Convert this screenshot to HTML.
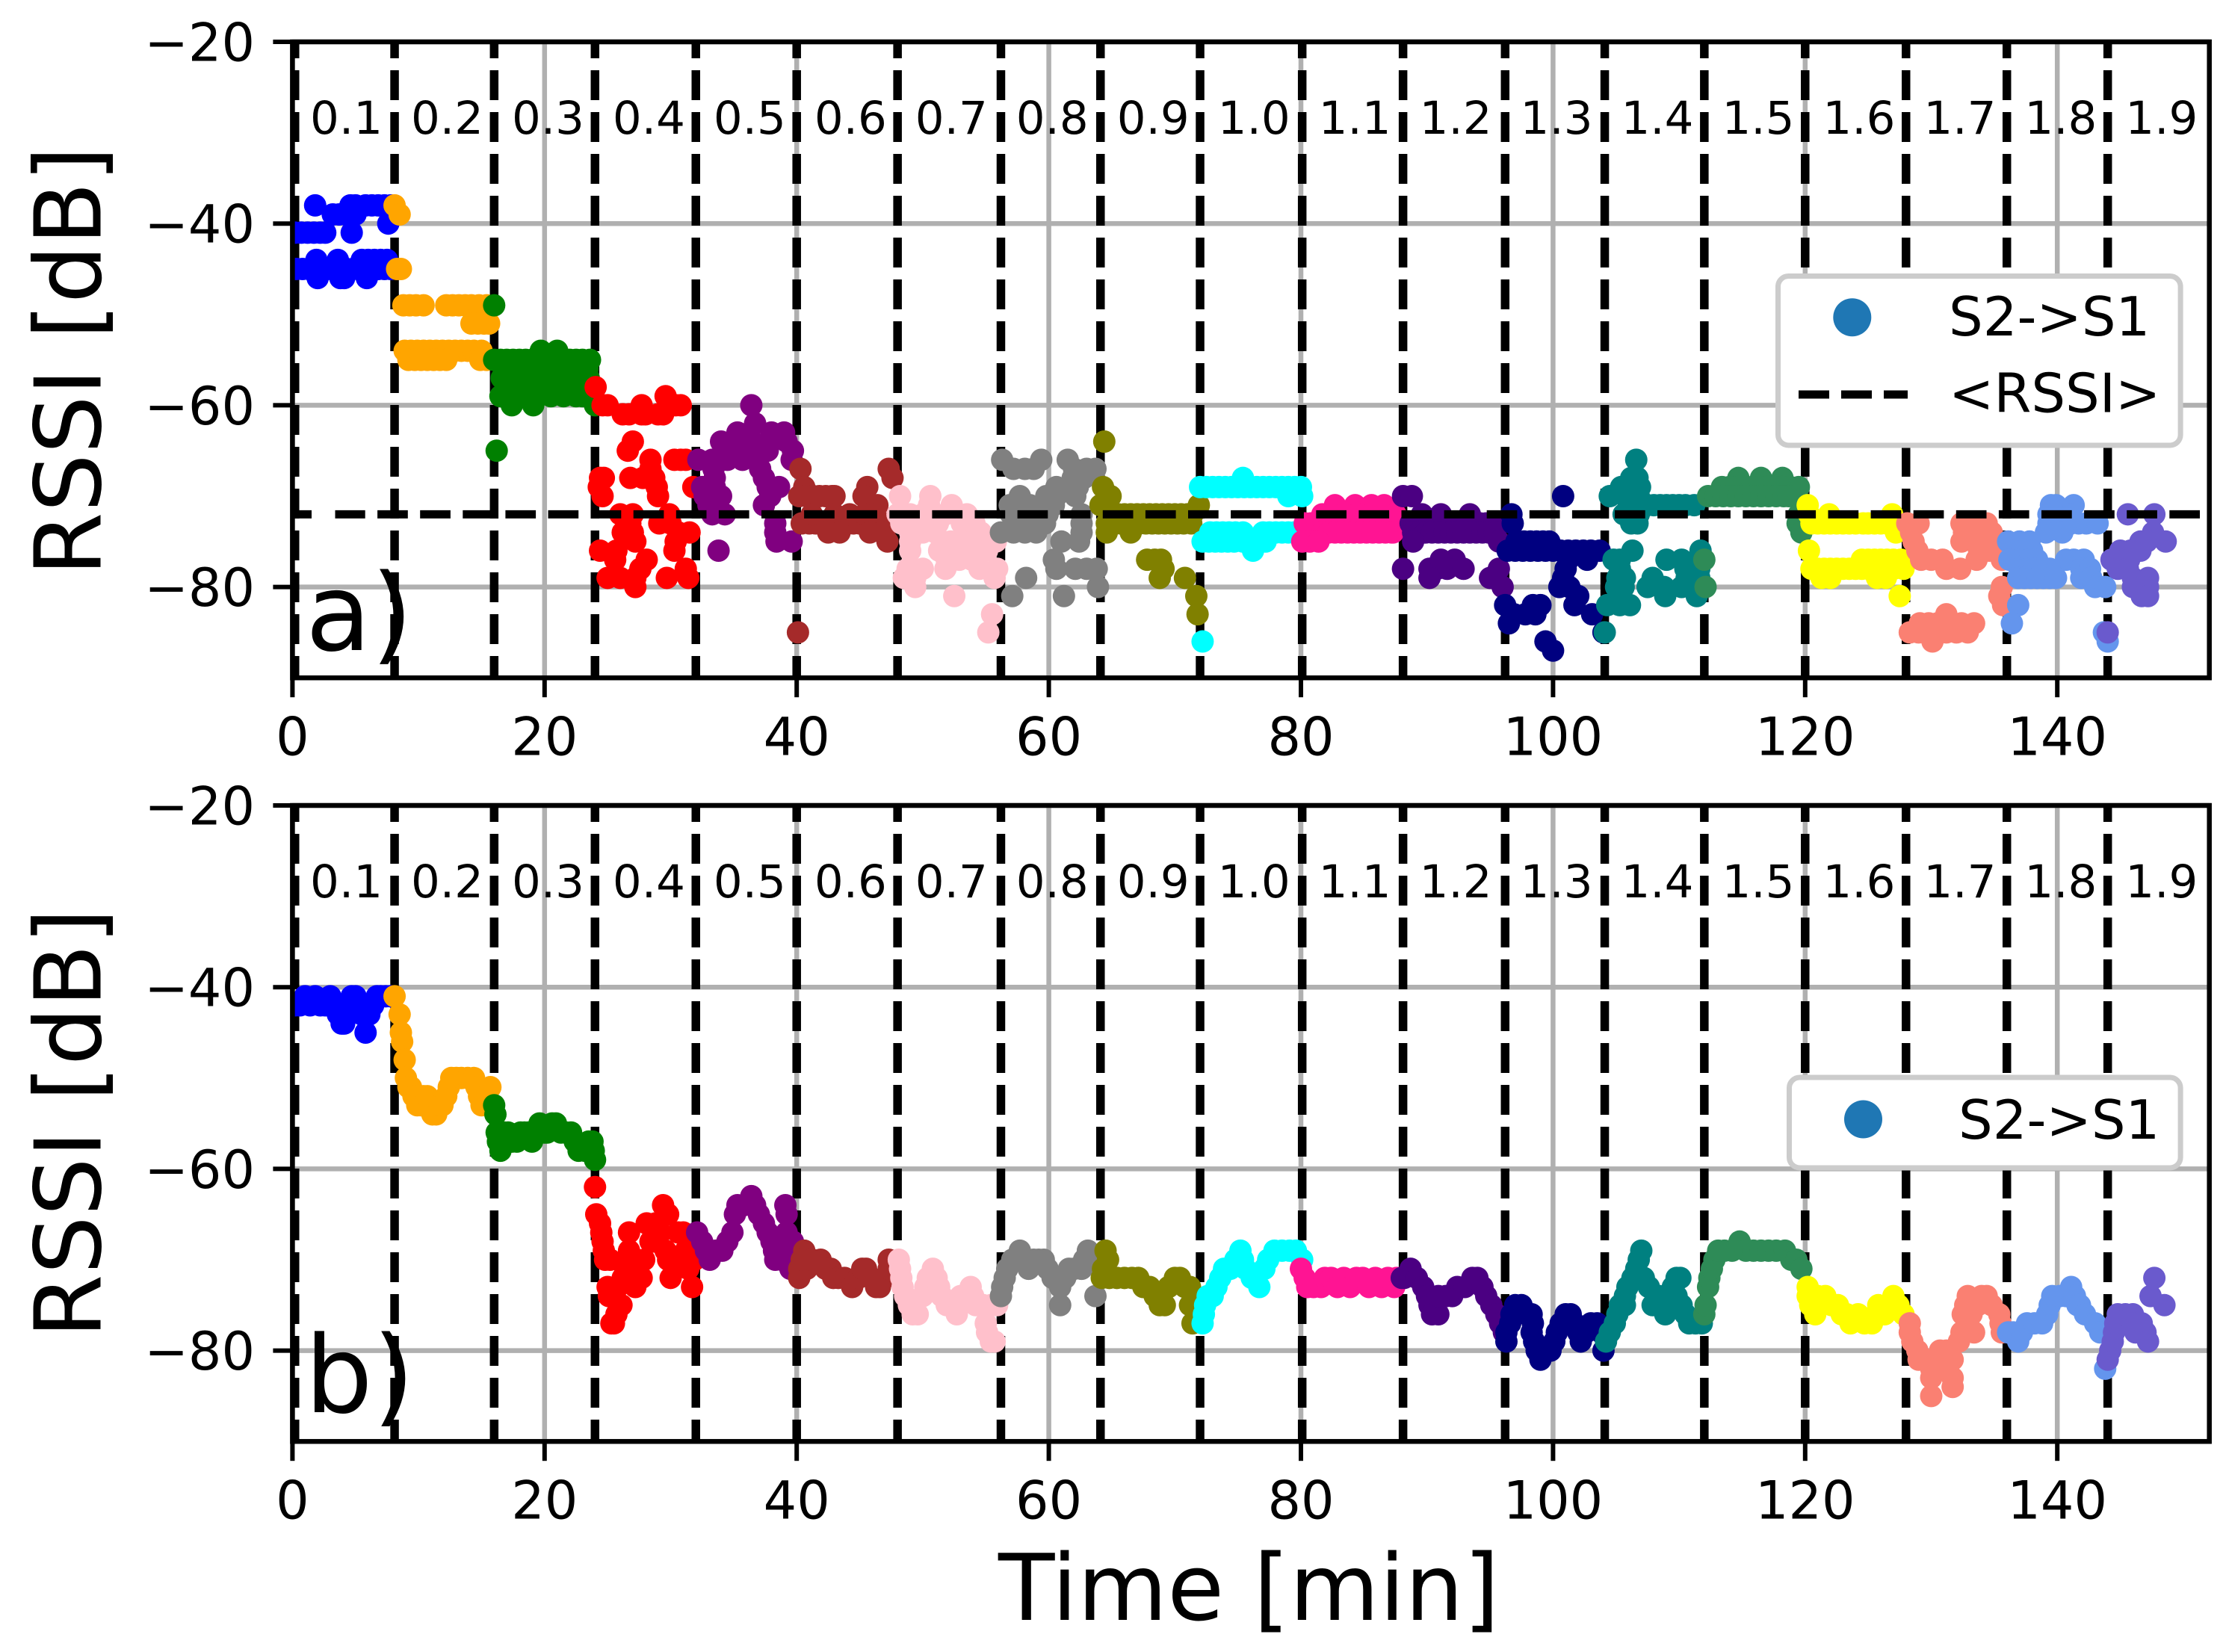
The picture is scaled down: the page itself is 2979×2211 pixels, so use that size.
<!DOCTYPE html>
<html lang="en">
<head>
<meta charset="utf-8">
<title>RSSI over time</title>
<style>
html,body{margin:0;padding:0;background:#fff}
svg{display:block}
text{font-family:"DejaVu Sans","Liberation Sans",sans-serif;fill:#000}
</style>
</head>
<body>
<svg id="chart" xmlns="http://www.w3.org/2000/svg" width="2979" height="2211" viewBox="0 0 2979 2211">
<rect x="0" y="0" width="2979" height="2211" fill="#fff"/>
<defs>
<clipPath id="clipA"><rect x="391.4" y="56" width="2565" height="851.2"/></clipPath>
<clipPath id="clipB"><rect x="391.4" y="1078" width="2565" height="851.2"/></clipPath>
</defs>
<g id="panelA"></g>
<g id="panelB"></g>

<text font-size="123" transform="translate(134.7 771) rotate(-90)">RSSI [dB]</text>
<text font-size="123" transform="translate(134.7 1791) rotate(-90)">RSSI [dB]</text>
<text font-size="123.5" x="1336" y="2168">Time [min]</text>

<g>
<rect x="2379.5" y="369.5" width="538.6" height="226.5" rx="14" fill="#fff" stroke="#ccc" stroke-width="7"/>
<circle cx="2478.8" cy="424.7" r="25.5" fill="#1f77b4"/>
<text font-size="72" x="2608" y="449">S2-&gt;S1</text>
<line x1="2407" y1="528" x2="2553" y2="528" stroke="#000" stroke-width="11" stroke-dasharray="41 16"/>
<text font-size="72" x="2608" y="551.7">&lt;RSSI&gt;</text>
</g>
<g>
<rect x="2394.5" y="1442" width="523.6" height="121" rx="14" fill="#fff" stroke="#ccc" stroke-width="7"/>
<circle cx="2493.5" cy="1498" r="25.5" fill="#1f77b4"/>
<text font-size="72" x="2621" y="1524">S2-&gt;S1</text>
</g>
<text font-size="143" x="409" y="870">a)</text>
<text font-size="143" x="408" y="1890">b)</text>
</svg>

<script>
const xTicks = [0,20,40,60,80,100,120,140];
const yTicks = [-20,-40,-60,-80];
const sweepBoundaries = [0.2,8.1,16,24,32,40,48,56.2,64.1,72,80.1,88.1,96.2,104.1,112,120,128,136,144];
const sweepLabels = ["0.1","0.2","0.3","0.4","0.5","0.6","0.7","0.8","0.9","1.0","1.1","1.2","1.3","1.4","1.5","1.6","1.7","1.8","1.9"];
const segmentColors = ["#0000ff","#ffa500","#008000","#ff0000","#800080","#a52a2a","#ffc0cb","#808080","#808000","#00ffff","#ff1493","#4b0082","#000080","#008080","#2e8b57","#ffff00","#fa8072","#6495ed","#6a5acd"];
const meanRssi = -72;

const a01=[[.3,-45],[.8,-45],[1.3,-45],[1.8,-45],[2.3,-45],[2.8,-45],[3.3,-45],[3.8,-45],[4.3,-45],[4.8,-45],[5.3,-45],[5.8,-45],[6.3,-45],[6.8,-45],[7.3,-45],[7.8,-45],[1.9,-44],[3.6,-44],[5.5,-44],[6,-44],[6.5,-44],[7,-44],[7.5,-44],[2,-46],[3.8,-46],[4.1,-46],[5.9,-46],[.2,-41],[.7,-41],[1.2,-41],[1.7,-41],[2.2,-41],[2.6,-41],[4.7,-41],[1.8,-38],[4.6,-38],[5,-38],[5.8,-38],[6.3,-38],[6.8,-38],[7.3,-38],[7.8,-38],[3.2,-39],[3.7,-39],[4.2,-39],[4.6,-39],[5,-39],[7.6,-40]];
const a02=[[8.1,-38],[8.5,-39],[8.3,-45],[8.6,-45],[8.8,-49],[9.3,-49],[9.8,-49],[10.4,-49],[12.2,-49],[12.7,-49],[13.2,-49],[13.7,-49],[14.2,-49],[14.8,-49],[15.4,-49],[14.2,-51],[14.7,-51],[15.2,-51],[15.6,-51],[8.9,-54],[9.4,-54],[9.9,-54],[10.4,-54],[10.9,-54],[11.4,-54],[11.9,-54],[12.4,-54],[12.9,-54],[13.4,-54],[13.9,-54],[14.4,-54],[15,-54],[9.2,-55],[9.7,-55],[10.2,-55],[10.7,-55],[11.2,-55],[11.7,-55],[12.2,-55],[14.9,-55],[15.4,-55]];
const a03=[[16,-49],[16.2,-65],[16,-55],[16.5,-55],[17,-55],[17.5,-55],[18,-55],[18.5,-55],[19,-55],[19.5,-55],[20,-55],[21,-55],[22,-55],[22.5,-55],[23,-55],[23.6,-55],[19.7,-54],[21,-54],[17,-56],[17.8,-56],[19.5,-56],[20.5,-56],[21.5,-56],[22,-56],[22.8,-56],[23.4,-56],[16.6,-57],[17,-57],[18.5,-57],[19,-57],[20,-57],[21,-57],[22,-57],[23,-57],[23.5,-57],[17,-58],[17.5,-58],[18.5,-58],[19,-58],[19.5,-58],[20,-58],[20.5,-58],[21,-58],[21.5,-58],[22,-58],[22.5,-58],[23.5,-58],[16.5,-59],[17.2,-59],[18,-59],[19,-59],[19.5,-59],[20.5,-59],[21.5,-59],[22.5,-59],[23,-59],[17.4,-60],[19.1,-60],[24,-60]];
const a04=[[24.05,-58],[24.6,-60],[25,-60],[27.7,-60],[29.9,-60],[30.4,-60],[30.8,-60],[26.2,-61],[26.7,-61],[27.7,-61],[28,-61],[29,-61],[29.4,-61],[29.6,-59],[27,-64],[26.6,-65],[28.4,-66],[30.3,-66],[30.8,-66],[31.2,-66],[28.4,-67],[24.4,-68],[24.7,-68],[26.8,-68],[27.8,-68],[28.7,-68],[24.3,-69],[28.9,-69],[24.6,-70],[29,-70],[31.8,-69],[26,-72],[27,-72],[29.9,-72],[26.8,-73],[29.1,-73],[30,-73],[26.2,-74],[27,-74],[31.5,-74],[30.6,-74],[27.2,-75],[30.4,-75],[24.4,-76],[25.7,-76],[30.3,-76],[28.1,-77],[25.6,-77],[27.6,-78],[31.2,-78],[25,-79],[26,-79],[27.2,-79],[29.7,-79],[31.4,-79],[27.2,-80]];
const a05=[[36.4,-60],[36.7,-62],[35.3,-63],[38,-63],[39,-63],[34,-64],[35.3,-64],[36.5,-64],[38,-64],[39.2,-64],[34.2,-65],[35.3,-65],[36.5,-65],[37.7,-65],[39.7,-65],[32.2,-66],[33.3,-66],[34.5,-66],[35.7,-66],[36.8,-66],[39.6,-66],[37.1,-67],[33.4,-67],[33.5,-68],[37.4,-68],[32.5,-69],[33.5,-69],[37.7,-69],[38.6,-69],[32.7,-70],[34,-70],[37.9,-70],[33,-71],[37.4,-71],[33.3,-72],[34.3,-72],[38.3,-73],[38.3,-74],[38.4,-75],[39.6,-75],[33.8,-76]];
const a06=[[40.3,-67],[40.6,-69],[40.2,-70],[40.8,-70],[41.3,-70],[41.8,-70],[42.3,-70],[42.8,-70],[43,-70],[45.6,-69],[45.3,-70],[46.4,-71],[47.3,-67],[47.6,-68],[40.4,-73],[41,-73],[41.5,-73],[42,-73],[42.5,-73],[43,-73],[43.5,-73],[44,-73],[44.5,-73],[45,-73],[45.5,-73],[46,-73],[46.5,-73],[47,-73],[47.4,-73],[41.2,-72],[43,-72],[44.2,-72],[45.4,-72],[46.2,-72],[42.5,-74],[43.4,-74],[45.8,-74],[46.8,-74],[47.2,-75],[40.1,-85]];
const a07=[[48.2,-70],[50.6,-70],[50.5,-71],[52.3,-71],[48,-72],[49,-72],[50,-72],[51,-72],[51.8,-72],[53.5,-72],[48.3,-73],[49.3,-73],[50.2,-73],[51.2,-73],[53.1,-73],[54.1,-73],[49,-74],[50,-74],[51,-74],[53.6,-74],[54.6,-74],[49,-75],[52.2,-75],[53.1,-75],[54.1,-75],[55.8,-75],[49,-76],[51.3,-76],[52.3,-76],[53.2,-76],[54.3,-76],[55.1,-76],[51.9,-77],[52.9,-77],[53.9,-77],[48.8,-78],[50,-78],[51.8,-78],[54.5,-78],[55.9,-78],[48.5,-79],[49.4,-79],[55.7,-79],[49.4,-80],[52.5,-81],[55.5,-83],[55.2,-85]];
const a08=[[56.3,-66],[59.4,-66],[61.5,-66],[57.2,-67],[58.1,-67],[58.8,-67],[62,-67],[63,-67],[63.7,-67],[61.9,-68],[62.8,-68],[60.6,-69],[61.6,-69],[62.3,-69],[57.7,-70],[59.8,-70],[60.6,-70],[62.1,-70],[56.9,-71],[57.5,-71],[58.5,-71],[59.4,-71],[60.4,-71],[57,-72],[58,-72],[59,-72],[59.9,-72],[62.6,-72],[57.5,-73],[59.7,-73],[62.6,-73],[56.2,-74],[57.2,-74],[58.1,-74],[59,-74],[62.6,-74],[61,-75],[62.4,-75],[60.4,-77],[60.6,-78],[62.1,-78],[63,-78],[63.8,-78],[58.2,-79],[63.9,-80],[57.1,-81],[61.2,-81]];
const a09=[[64.4,-64],[64.3,-69],[64.9,-70],[64.1,-71],[65.5,-72],[66,-72],[66.5,-72],[67,-72],[67.5,-72],[68,-72],[68.5,-72],[69,-72],[69.5,-72],[70,-72],[70.5,-72],[71,-72],[71.4,-72],[71.9,-71],[64.6,-73],[65.2,-73],[65.7,-73],[66.2,-73],[66.7,-73],[67.2,-73],[67.7,-73],[68.2,-73],[68.7,-73],[69.2,-73],[69.7,-73],[70.2,-73],[70.7,-73],[71.3,-73],[64.6,-74],[66.5,-74],[67.8,-77],[68.4,-77],[68.9,-77],[69.1,-78],[68.8,-79],[70.8,-79],[71.7,-81],[71.8,-83]];
const a10=[[75.4,-68],[72,-69],[72.5,-69],[73,-69],[73.5,-69],[74,-69],[74.5,-69],[75,-69],[75.5,-69],[76,-69],[76.5,-69],[77,-69],[77.5,-69],[78,-69],[78.5,-69],[79,-69],[79.5,-69],[80,-69],[79,-70],[80.1,-70],[72.8,-74],[73.3,-74],[73.8,-74],[74.3,-74],[74.8,-74],[75.4,-74],[77,-74],[77.5,-74],[78,-74],[78.5,-74],[79,-74],[79.5,-74],[72.2,-75],[72.7,-75],[73.2,-75],[73.7,-75],[74.2,-75],[74.7,-75],[75.4,-75],[76.5,-75],[77.2,-75],[76.2,-76],[72.2,-86]];
const a11=[[82.7,-71],[84.3,-71],[85.6,-71],[86.6,-71],[81.7,-72],[82.5,-72],[83.5,-72],[84.5,-72],[85.5,-72],[86.5,-72],[87.5,-72],[80.3,-73],[80.8,-73],[81.3,-73],[81.8,-73],[82.3,-73],[82.8,-73],[83.3,-73],[83.8,-73],[84.3,-73],[84.8,-73],[85.3,-73],[85.8,-73],[86.3,-73],[86.8,-73],[87.3,-73],[88,-73],[81.2,-74],[81.7,-74],[82.2,-74],[82.7,-74],[83.2,-74],[83.7,-74],[84.2,-74],[84.7,-74],[85.2,-74],[85.7,-74],[86.2,-74],[86.7,-74],[87.2,-74],[87.3,-74],[80.1,-75],[80.7,-75],[81.4,-75]];
const a12=[[88.1,-70],[88.8,-70],[89.6,-72],[91.1,-72],[93.4,-72],[88.7,-73],[89.2,-73],[89.7,-73],[90.2,-73],[90.7,-73],[91.2,-73],[91.7,-73],[92.2,-73],[92.7,-73],[93.2,-73],[93.7,-73],[94.2,-73],[94.7,-73],[95.2,-73],[88.9,-74],[89.4,-74],[89.9,-74],[90.4,-74],[90.9,-74],[91.4,-74],[91.9,-74],[92.4,-74],[92.9,-74],[93.4,-74],[93.9,-74],[94.4,-74],[94.9,-74],[95.4,-74],[88.9,-75],[95.7,-75],[88.1,-78],[90.2,-78],[90.8,-78],[91.1,-77],[92.2,-77],[91.6,-78],[92.9,-78],[95.7,-78],[90.2,-79],[95,-79],[96,-80]];
const a13=[[96.7,-72],[96.8,-73],[97.1,-75],[97.7,-75],[98.2,-75],[98.7,-75],[99.2,-75],[99.7,-75],[96.4,-76],[97,-76],[97.6,-76],[98.2,-76],[98.8,-76],[99.4,-76],[100,-76],[100.6,-76],[101.2,-76],[101.8,-76],[102.4,-76],[103,-76],[103.7,-76],[101.2,-77],[102.7,-77],[101,-78],[100.8,-79],[100.5,-80],[101.3,-80],[102,-81],[101.7,-82],[96.2,-82],[98.4,-82],[99,-82],[96.9,-83],[97.8,-83],[98.6,-83],[103.1,-83],[96.5,-84],[99.4,-86],[100,-87],[100.8,-70],[104,-85]];
const a14=[[106.6,-66],[106.2,-68],[106.7,-68],[105.4,-69],[106.9,-69],[104.5,-70],[106.8,-70],[106,-71],[106.5,-71],[107,-71],[107.5,-71],[108,-71],[108.5,-71],[109,-71],[109.5,-71],[110,-71],[110.5,-71],[111.2,-71],[105.6,-72],[106.8,-72],[106.2,-73],[106.7,-73],[106.3,-76],[111.7,-76],[104.8,-77],[105.3,-77],[109,-77],[110.2,-77],[111.7,-77],[105.3,-78],[110.5,-78],[111.6,-78],[105.1,-79],[105.7,-79],[107.9,-79],[110.6,-79],[111.6,-79],[105,-80],[105.6,-80],[107.5,-80],[108.8,-80],[110.2,-80],[111.4,-80],[105.2,-81],[108.9,-81],[111.4,-81],[104.3,-82],[105.3,-82],[106.1,-82],[104.1,-85]];
const a15=[[112,-77],[112.1,-80],[114.7,-68],[116.5,-68],[118.2,-68],[113.4,-69],[114,-69],[114.6,-69],[115.2,-69],[115.8,-69],[116.4,-69],[117,-69],[117.6,-69],[118.2,-69],[118.8,-69],[119.5,-69],[112.3,-70],[112.9,-70],[113.5,-70],[114.1,-70],[114.7,-70],[115.3,-70],[115.9,-70],[116.5,-70],[117.1,-70],[117.7,-70],[118.3,-70],[118.7,-70],[119.5,-72],[119.4,-73],[119.7,-74]];
const a16=[[120.2,-71],[121.9,-72],[126.9,-72],[120.3,-72],[124.6,-73],[120.5,-73],[121,-73],[121.5,-73],[122,-73],[122.5,-73],[123,-73],[123.5,-73],[124,-73],[125,-73],[125.5,-73],[126,-73],[126.5,-73],[127,-73],[127.2,-74],[120.3,-76],[124.5,-77],[125,-77],[125.5,-77],[126,-77],[126.5,-77],[127,-77],[127.6,-77],[120.5,-78],[121,-78],[121.5,-78],[122,-78],[122.5,-78],[123,-78],[123.5,-78],[124,-78],[124.5,-78],[125,-78],[125.5,-78],[126,-78],[126.5,-78],[127,-78],[127.8,-78],[121.3,-79],[122,-79],[125.7,-79],[126.4,-79],[127.5,-81]];
const a17=[[128.1,-73],[129,-73],[128.4,-74],[128.6,-75],[128.9,-76],[129.2,-77],[130,-77],[130.9,-77],[131.2,-78],[132.3,-78],[133.6,-77],[133,-73],[133.9,-73],[134.4,-73],[132.4,-73],[133.2,-73],[134.2,-73],[134.8,-74],[132.6,-74],[133.4,-74],[134.6,-74],[132.4,-75],[133.4,-75],[134.5,-75],[133.8,-76],[134.6,-76],[135.6,-77],[135.6,-80],[135.4,-81],[135.7,-82],[131.2,-83],[129.1,-84],[129.8,-84],[130.5,-84],[131.4,-84],[132.4,-84],[133.4,-84],[128.3,-85],[129,-85],[129.8,-85],[130.5,-85],[131.2,-85],[132,-85],[132.9,-85],[130.1,-86]];
const a18=[[139.5,-71],[139.9,-71],[141.3,-71],[139.3,-72],[141.1,-72],[139.3,-73],[139.9,-73],[140.5,-73],[141.1,-73],[141.7,-73],[142.3,-73],[143.2,-73],[139.1,-74],[140.4,-74],[136.1,-75],[137,-75],[137.8,-75],[136.6,-76],[137.3,-76],[138,-76],[140.7,-77],[141.3,-77],[142.1,-77],[136.2,-77],[137,-77],[137.8,-77],[138.4,-77],[137,-78],[137.6,-78],[138.2,-78],[138.8,-78],[139.4,-78],[141.9,-78],[142.6,-78],[136.9,-79],[137.4,-79],[137.9,-79],[138.4,-79],[138.9,-79],[139.4,-79],[139.9,-79],[141.9,-79],[142.7,-79],[143,-80],[143.8,-80],[136.9,-82],[136.4,-84],[143.7,-85],[144,-86]];
const a19=[[144,-85],[145.6,-72],[147.7,-72],[147.6,-74],[148.6,-75],[146.6,-75],[147.1,-75],[145,-76],[145.8,-76],[146.6,-76],[144.3,-77],[145,-77],[145.7,-77],[144.8,-78],[145.6,-78],[146,-79],[147.2,-79],[146,-80],[146.7,-80],[147.2,-80],[146.7,-81],[147.2,-81]];

const b01=[[.2,-42],[.6,-42],[1,-41],[1.4,-42],[1.8,-41],[2.2,-42],[2.6,-42],[3,-41],[3.4,-42],[3.6,-43],[3.9,-44],[4.1,-44],[4.4,-43],[4.7,-41],[5,-41],[5.2,-42],[5.5,-43],[5.8,-45],[6.1,-43],[6.4,-42],[6.7,-41],[7,-41],[7.4,-41],[7.8,-41]];
const b02=[[8.1,-41],[8.5,-43],[8.6,-45],[8.7,-46],[8.9,-48],[9,-50],[9.2,-51],[9.4,-51],[9.6,-52],[9.9,-53],[10.2,-53],[10.4,-52],[10.7,-52],[10.9,-53],[11.1,-54],[11.4,-54],[11.7,-53],[11.9,-53],[12.2,-52],[12.4,-51],[12.6,-50],[13,-50],[13.4,-50],[13.9,-50],[14.4,-50],[14.6,-51],[14.8,-52],[15,-53],[15.3,-52],[15.7,-51]];
const b03=[[16,-53],[16.1,-54],[16.2,-56],[16.3,-57],[16.5,-58],[16.8,-56],[17.1,-56],[17.4,-57],[17.8,-57],[18.1,-56],[18.4,-56],[18.7,-56],[19,-57],[19.3,-56],[19.6,-55],[20,-56],[20.2,-56],[20.6,-55],[20.9,-55],[21.3,-56],[21.7,-56],[22.1,-56],[22.4,-57],[22.7,-58],[23.2,-58],[23.5,-57],[23.8,-57],[23.9,-58],[24,-59]];
const b04=[[24,-62],[24.1,-65],[24.4,-66],[24.5,-67],[24.6,-68],[24.7,-69],[24.8,-70],[25.2,-70],[25,-73],[25.1,-74],[25.5,-74],[26.1,-75],[25.7,-76],[25.5,-77],[25.3,-77],[25.8,-73],[26.2,-72],[26.4,-71],[26.6,-70],[26.7,-69],[27.1,-70],[26.7,-67],[27.2,-73],[27.1,-72],[27.7,-72],[27.9,-70],[28.4,-68],[28.1,-66],[28.8,-66],[28.7,-68],[29.4,-64],[29.8,-65],[29.2,-67],[29.6,-69],[29.8,-70],[30,-72],[30.4,-71],[30.6,-67],[30.9,-70],[31,-67],[31.2,-69],[31.4,-71],[31.7,-73],[31.9,-70],[31.5,-68]];
const b05=[[32.1,-67],[32.5,-68],[32.8,-69],[33.1,-70],[33.6,-69],[34.1,-69],[34.5,-68],[34.9,-67],[35.1,-65],[35.3,-64],[35.8,-64],[36.4,-63],[36.7,-64],[37,-65],[37.4,-66],[37.7,-67],[38,-68],[38.2,-69],[38.3,-70],[38.8,-70],[39.1,-64],[39.2,-65],[39.2,-67],[39.3,-68],[39.7,-68],[39.9,-69],[39.5,-71]];
const b06=[[40.6,-69],[40.2,-72],[40.2,-71],[40.8,-71],[40.4,-70],[41.2,-70],[41.9,-70],[42.3,-71],[42.7,-71],[42.9,-72],[43.3,-72],[43.8,-72],[44.4,-73],[44.9,-72],[45.2,-71],[45.5,-71],[45.9,-72],[46.3,-73],[46.6,-73],[47,-72],[47.3,-70],[47.3,-71]];
const b07=[[48.1,-70],[48.2,-71],[48.3,-72],[48.4,-73],[48.6,-74],[48.9,-75],[49.2,-76],[49.6,-76],[50,-74],[50.2,-73],[50.4,-72],[50.8,-71],[51.1,-72],[51.3,-73],[51.5,-74],[51.9,-75],[52.3,-75],[52.7,-76],[53,-74],[53.4,-74],[53.8,-73],[54,-74],[54.2,-75],[54.8,-75],[55.4,-75],[55.9,-75],[55,-77],[55.1,-78],[55.4,-79],[55.7,-79]];
const b08=[[56.2,-74],[56.3,-73],[56.5,-72],[56.7,-71],[57.1,-70],[57.5,-70],[57.7,-69],[58,-70],[58.4,-71],[58.8,-70],[59.2,-70],[59.6,-70],[59.9,-71],[60.3,-72],[60.9,-73],[60.9,-75],[61.3,-72],[61.6,-71],[62,-71],[62.6,-71],[62.8,-70],[63.1,-69],[63.5,-70],[63.7,-74]];
const b09=[[64.5,-69],[64.7,-70],[64.3,-71],[64.2,-72],[64.8,-72],[65.4,-72],[66,-72],[66.6,-72],[67.1,-72],[67.5,-73],[68,-73],[68.4,-74],[68.8,-75],[69.2,-75],[69.5,-73],[70,-72],[70.4,-72],[70.8,-73],[71.2,-73],[71.2,-75],[71.4,-77]];
const b10=[[72.2,-77],[72.3,-76],[72.4,-75],[72.6,-74],[73,-74],[73.3,-73],[73.6,-72],[73.9,-71],[74.4,-71],[74.8,-70],[75.2,-69],[75.4,-70],[75.6,-71],[76.1,-72],[76.7,-73],[77.1,-71],[77.4,-70],[77.9,-69],[78.5,-69],[79.1,-69],[79.6,-69],[80.1,-70]];
const b11=[[80,-71],[80.3,-72],[80.5,-73],[81,-73],[81.6,-73],[81.9,-72],[82.4,-72],[82.9,-73],[83.4,-72],[83.9,-73],[84.4,-72],[84.9,-72],[85.4,-73],[85.9,-72],[86.4,-73],[86.9,-72],[87.4,-73],[87.6,-72]];
const b12=[[88,-72],[88.2,-72],[88.7,-71],[89.2,-72],[89.7,-73],[90,-74],[90.2,-75],[90.4,-76],[90.9,-76],[90.9,-74],[91.5,-74],[92,-74],[92.4,-73],[93,-73],[93.6,-72],[94,-72],[94.4,-73],[94.7,-74],[95.1,-75],[95.5,-76],[95.8,-77],[96.1,-78]];
const b13=[[96.3,-79],[96.3,-78],[96.6,-77],[96.7,-76],[97,-75],[97.5,-75],[97.9,-76],[98.3,-76],[98.4,-77],[98.3,-78],[98.5,-79],[98.7,-80],[99,-81],[99.5,-80],[99.8,-80],[100.1,-79],[100.3,-78],[100.6,-77],[101,-76],[101.4,-76],[101.7,-77],[102,-78],[102.2,-79],[102.6,-78],[103,-77],[103.5,-77],[103.8,-78],[104,-80]];
const b14=[[104.2,-79],[104.5,-78],[104.9,-77],[105.1,-76],[105.3,-75],[105.7,-75],[105.7,-74],[105.9,-73],[106.3,-72],[106.6,-71],[106.8,-70],[107,-69],[107.2,-72],[107.6,-73],[107.9,-75],[108.4,-74],[108.9,-76],[109.2,-74],[109.5,-73],[109.8,-72],[110.1,-72],[109.8,-74],[110.2,-75],[110.5,-76],[110.8,-77],[111.3,-77],[111.8,-77]];
const b15=[[112,-76],[112.1,-75],[112.3,-73],[112.4,-72],[112.6,-71],[112.8,-70],[113.1,-69],[113.6,-69],[114.2,-69],[114.8,-68],[115.3,-69],[115.9,-69],[116.5,-69],[117.1,-69],[117.7,-69],[118.4,-69],[118.9,-70],[119.3,-70],[119.7,-71]];
const b16=[[120.2,-73],[120.2,-74],[120.4,-75],[120.8,-76],[121,-74],[121.6,-74],[122.1,-75],[122.6,-75],[122.9,-76],[123.3,-76],[123.6,-77],[124.2,-76],[124.7,-77],[125.3,-77],[125.6,-76],[125.8,-75],[126.3,-76],[126.7,-75],[127,-74],[127.4,-75],[127.8,-76]];
const b17=[[128.3,-77],[128.3,-78],[128.5,-79],[128.9,-80],[129,-81],[129.5,-81],[130,-82],[130,-83],[130,-85],[130.5,-81],[130.7,-80],[131.2,-80],[131.7,-81],[131.7,-83],[131.7,-84],[131.3,-82],[132.2,-79],[132.4,-78],[132.5,-76],[132.7,-75],[132.9,-74],[133.2,-76],[133.4,-78],[133.7,-75],[134,-74],[134.4,-74],[134.8,-75],[135.4,-76],[135.5,-77],[135.6,-78]];
const b18=[[136.1,-78],[136.5,-78],[136.9,-79],[137.2,-78],[137.6,-77],[138.2,-77],[138.8,-77],[139.2,-76],[139.4,-75],[139.6,-74],[140.2,-74],[140.7,-74],[141.1,-73],[141.4,-74],[141.6,-75],[141.8,-75],[142.2,-76],[143,-77],[143.4,-78],[143.8,-82]];
const b19=[[144,-81],[144.2,-80],[144.4,-79],[144.5,-78],[144.6,-77],[144.8,-76],[145.4,-76],[146,-76],[146,-77],[146.2,-78],[146.7,-77],[147,-78],[147.2,-79],[147.7,-72],[147.4,-74],[148.5,-75]];

const panelASegments=[a01,a02,a03,a04,a05,a06,a07,a08,a09,a10,a11,a12,a13,a14,a15,a16,a17,a18,a19];
const panelBSegments=[b01,b02,b03,b04,b05,b06,b07,b08,b09,b10,b11,b12,b13,b14,b15,b16,b17,b18,b19];

const SVGNS='http://www.w3.org/2000/svg';
const xLeft=391.4, xRight=2956.7, xPerMin=16.87, yPerDb=12.16, markerR=15;
function xScale(t){return xLeft+t*xPerMin;}
function yScale(r,top){return top+(-20-r)*yPerDb;}
function make(tag,parent,attrs){
  const el=document.createElementNS(SVGNS,tag);
  for(const k in attrs){el.setAttribute(k,attrs[k]);}
  parent.appendChild(el);
  return el;
}

function drawPanel(group,top,clipId,segments,hasMean,prefix){
  const bottom=yScale(-90,top);

  for(const tick of xTicks){
    const g=make('line',group,{x1:xScale(tick),x2:xScale(tick),y1:top,y2:bottom,stroke:'#b0b0b0','stroke-width':6.5});
    
    
  }
  for(const tick of yTicks){
    const g=make('line',group,{x1:xLeft,x2:xRight,y1:yScale(tick,top),y2:yScale(tick,top),stroke:'#b0b0b0','stroke-width':6.5});
    
    
  }

  const plot=make('g',group,{'clip-path':'url(#'+clipId+')'});
  
  

  for(const b of sweepBoundaries){
    const v=make('line',plot,{x1:xScale(b),x2:xScale(b),y1:top-18,y2:bottom+40,stroke:'#000','stroke-width':11.5,'stroke-dasharray':'40 16'});
    
    
  }

  segments.forEach(function(points,i){
    const seg=make('g',plot,{fill:segmentColors[i]});
    
    
    for(const p of points){
      const c=make('circle',seg,{cx:xScale(p[0]),cy:yScale(p[1],top),r:markerR});
      
      
    }
  });

  if(hasMean){
    const y=yScale(meanRssi,top);
    const m=make('line',plot,{x1:2944,x2:448.5,y1:y,y2:y,stroke:'#000','stroke-width':11,'stroke-dasharray':'40.7 16.4'});
    
    
    const m2=make('line',plot,{x1:391,x2:417,y1:y,y2:y,stroke:'#000','stroke-width':11});
    
    
  }

  sweepLabels.forEach(function(label,i){
    const t=make('text',group,{x:xScale(8*i+1.4),y:yScale(-30.1,top),'font-size':61});
    
    
    t.textContent=label;
  });

  for(const tick of xTicks){
    const m=make('line',group,{x1:xScale(tick),x2:xScale(tick),y1:bottom,y2:bottom+26,stroke:'#000','stroke-width':6});
    
    
    const t=make('text',group,{x:xScale(tick),y:bottom+103.5,'font-size':70,'text-anchor':'middle'});
    
    
    t.textContent=String(tick);
  }
  for(const tick of yTicks){
    const m=make('line',group,{x1:xLeft-26,x2:xLeft,y1:yScale(tick,top),y2:yScale(tick,top),stroke:'#000','stroke-width':6});
    
    
    const t=make('text',group,{x:341,y:yScale(tick,top)+25.5,'font-size':70,'text-anchor':'end'});
    
    
    t.textContent='\u2212'+Math.abs(tick);
  }

  const frame=make('rect',group,{x:xLeft,y:top,width:xRight-xLeft,height:bottom-top,fill:'none',stroke:'#000','stroke-width':6.5});
  
  
}

drawPanel(document.getElementById('panelA'),56,'clipA',panelASegments,true,'panel-a');
drawPanel(document.getElementById('panelB'),1078,'clipB',panelBSegments,false,'panel-b');
</script>
</body>
</html>
